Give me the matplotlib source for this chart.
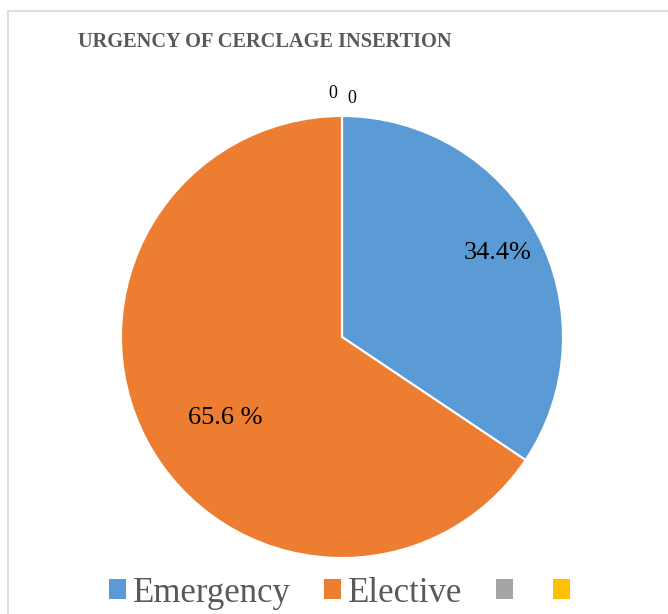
import matplotlib.pyplot as plt
from matplotlib.patches import Patch, Rectangle

# Veriler
categories = ['Emergency', 'Elective', '', '']
values = [34.4, 65.6, 0, 0]
colors = ['#5B9BD5', '#ED7D31', '#A5A5A5', '#FFC000']
pct_labels = ['34.4%', '65.6 %', '0', '0']

plt.rcParams['font.family'] = ['Liberation Serif', 'DejaVu Serif']

fig = plt.figure(figsize=(6.68, 6.14), dpi=100)

# grafik alanının çerçevesi
fig.patches.append(Rectangle((8 / 668, -0.1), 1.2, 1 - 11 / 614 + 0.1,
                             transform=fig.transFigure, fill=False,
                             edgecolor='#D9D9D9', linewidth=1.2))

# pasta grafiği (merkez 342,337 px, yarıçap 221 px)
ax = fig.add_axes([121 / 668, 56 / 614, 442 / 668, 442 / 614])
wedges, _ = ax.pie(values, colors=colors, startangle=90, counterclock=False,
                   wedgeprops=dict(edgecolor='white', linewidth=1.5))
ax.set_xlim(-1, 1)
ax.set_ylim(-1, 1)
ax.set_aspect('equal')

# etiketler
label_pos = [(0.705, 0.38), (-0.53, -0.365), (-0.04, 1.10), (0.045, 1.08)]
label_size = [19, 19, 13, 13]
for txt, (x, y), s in zip(pct_labels, label_pos, label_size):
    ax.text(x, y, txt, ha='center', va='center', fontsize=s, color='black')

# başlık
fig.text(265 / 668, 1 - 42 / 614, 'URGENCY OF CERCLAGE INSERTION',
         ha='center', va='center', fontsize=14.7, fontweight='bold',
         color='#595959')

# lejant
handles = [Patch(facecolor=c, edgecolor='none') for c in colors]
leg = fig.legend(handles, categories, loc='center', ncol=4,
                 bbox_to_anchor=(343 / 668, 21 / 614), frameon=False,
                 fontsize=25, handlelength=0.5, handleheight=0.5,
                 handletextpad=0.2, columnspacing=0.95, borderpad=0)
for t in leg.get_texts():
    t.set_color('#595959')

plt.savefig('out.png', dpi=100)
